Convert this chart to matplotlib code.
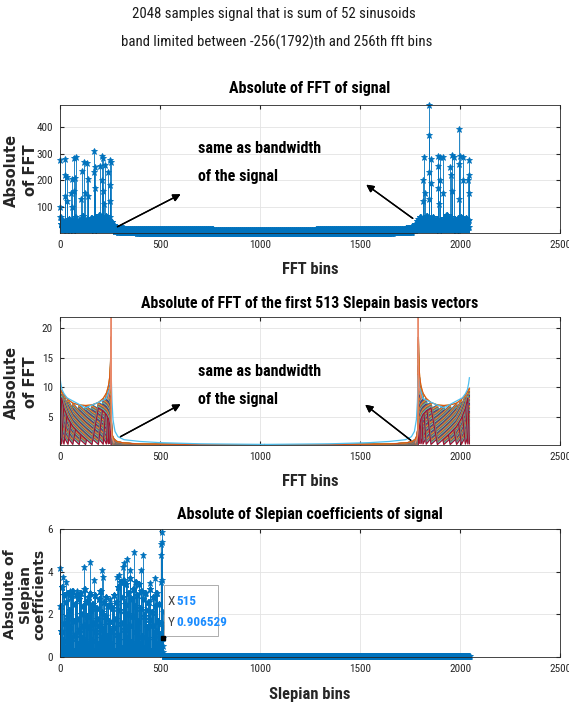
import numpy as np
import matplotlib.pyplot as plt
import matplotlib.font_manager as fm
from matplotlib.patches import Rectangle

# buscar una fuente estrecha (el original usa una tipografia condensada)
narrow_pref = ['Liberation Sans Narrow', 'Roboto Condensed', 'Open Sans Condensed',
               'Noto Sans Condensed', 'DejaVu Sans Condensed']
names = {f.name for f in fm.fontManager.ttflist}
narrow = next((n for n in narrow_pref if n in names), None)
if narrow is None:
    cond = [f for f in fm.fontManager.ttflist
            if 'narrow' in f.name.lower() or 'condensed' in f.name.lower()]
    narrow = cond[0].name if cond else None
families = ([narrow] if narrow else []) + ['Liberation Sans', 'DejaVu Sans']
plt.rcParams['font.family'] = families

# ---------------- datos ----------------
n_bins = 2048
tick_x = [0, 500, 1000, 1500, 2000, 2500]

# panel 1: |FFT| de la senal
# ruido dentro de banda (bloques de 4 bins)
band_left_noise = [60, 35, 20, 45, 15, 30, 50, 25, 10, 40, 28, 55, 18, 35, 22, 48,
                   12, 38, 26, 60, 20, 42, 15, 33, 50, 25, 40, 18, 66, 30, 22, 45,
                   14, 36, 55, 24, 40, 16, 30, 58, 26, 44, 12, 38, 62, 28, 20, 48,
                   34, 70, 25, 42, 18, 56, 30, 45, 22, 64, 38, 26, 50, 35, 60, 40]
band_right_noise = [55, 40, 62, 30, 48, 25, 58, 36, 20, 44, 66, 28, 40, 15, 52, 34,
                    24, 46, 60, 30, 18, 42, 26, 55, 38, 10, 30, 48, 22, 40, 14, 36,
                    58, 26, 44, 68, 32, 50, 20, 40, 62, 28, 46, 16, 34, 54, 24, 12,
                    38, 56, 30, 44, 20, 60, 36, 26, 48, 18, 40, 58, 30, 45, 22, 50]
# suelo fuera de banda: inicio de bloque, valor alto, valor bajo
floor_starts = [256, 264, 272, 288, 320, 384, 512, 768, 1024, 1280, 1536, 1664, 1728, 1760, 1776, 1784, 1792]
floor_hi = [42, 32, 25, 20, 17, 15, 14, 13, 13, 14, 15, 17, 20, 26, 34, 44]
floor_lo = [22, 14, 9, 5, 3, 2, 1.5, 1, 1, 1.5, 2, 3, 6, 12, 18, 26]
# picos
peak_bins = [0, 2, 24, 25, 26, 33, 34, 57, 58, 59, 70, 71, 77, 78, 107, 108, 122, 123,
             133, 138, 142, 171, 172, 173, 175, 200, 208, 209, 216, 217, 218, 225, 242, 249, 250, 251, 255,
             1816, 1817, 1822, 1823, 1843, 1844, 1845, 1846, 1854, 1855, 1888, 1891, 1892, 1893,
             1900, 1901, 1916, 1917, 1950, 1957, 1958, 1959, 1972, 1994, 1995, 1996, 2000,
             2016, 2017, 2040, 2044, 2045, 2046]
peak_vals = [275, 100, 220, 280, 140, 212, 120, 150, 205, 100, 283, 160, 210, 287, 130, 235, 270, 150,
             265, 205, 140, 230, 312, 170, 250, 253, 290, 200, 160, 283, 110, 258, 230, 180, 275, 120, 270,
             120, 200, 287, 150, 370, 230, 484, 130, 190, 280, 255, 170, 290, 110,
             287, 200, 150, 287, 250, 220, 295, 160, 287, 260, 393, 130, 290,
             200, 287, 200, 220, 275, 150]

# panel 2: |FFT| de los vectores de Slepian (envolvente)
env_bins = [0, 8, 20, 40, 64, 96, 128, 160, 192, 216, 232, 242, 248, 252, 255]
env_vals = [9.8, 9.3, 8.7, 7.9, 7.3, 7.0, 6.9, 7.0, 7.4, 8.1, 9.0, 10.2, 11.6, 13.6, 18.5]
tail_bins = [256, 258, 262, 270, 285, 310, 360, 450, 600, 800, 1023]
tail_vals = [6.0, 3.0, 1.8, 1.2, 0.8, 0.6, 0.45, 0.35, 0.3, 0.25, 0.22]
curve_fracs = [1.0, 0.98, 0.96, 0.94, 0.92, 0.90, 0.88, 0.86, 0.84, 0.82, 0.80, 0.78, 0.76,
               0.74, 0.72, 0.70, 0.68, 0.66, 0.64, 0.62, 0.60, 0.58, 0.56, 0.54, 0.52,
               0.50, 0.48, 0.46, 0.44, 0.42, 0.40, 0.38, 0.36, 0.34, 0.32, 0.30, 0.28,
               0.26, 0.24, 0.22, 0.20, 0.18, 0.16, 0.14, 0.12, 0.10, 0.08, 0.06, 0.04]
outer_bins = [0, 4, 10, 20, 35, 128, 230, 250, 256, 260, 265, 275, 290, 320, 400, 500, 700, 1023]
outer_vals = [11.6, 10.6, 9.6, 8.9, 8.2, 6.5, 8.0, 10.0, 12.0, 7.5, 4.5, 2.5, 1.6, 1.1, 0.8, 0.6, 0.4, 0.3]
spike_bins = [240, 252, 255, 256, 257, 260, 270]
spike_vals = [8.0, 10.0, 14.0, 21.9, 3.0, 1.5, 0.6]

# panel 3: |coeficientes de Slepian| (bloques de 4 bins)
slep_vals = [2.4, 1.2, 3.3, 0.8, 2.9, 1.6, 0.4, 2.6, 1.9, 3.0, 0.2, 2.2, 1.4, 2.8, 0.9, 3.1,
             1.7, 0.3, 2.5, 1.1, 2.9, 1.8, 0.6, 2.7, 1.3, 3.0, 2.0, 0.9, 2.4, 1.5, 3.2, 0.7,
             2.6, 1.9, 0.5, 2.8, 1.4, 3.0, 2.2, 0.8, 2.5, 1.6, 0.3, 2.9, 1.2, 2.3, 1.8, 0.6,
             2.7, 1.5, 3.1, 0.9, 2.1, 1.3, 2.6, 0.4, 1.9, 2.8, 1.0, 2.4, 0.5, 1.7, 2.5, 1.2,
             0.6, 2.3, 1.4, 2.9, 0.3, 1.8, 2.6, 1.1, 3.3, 0.8, 2.2, 3.5, 1.6, 0.4, 2.8, 3.6,
             1.3, 2.5, 3.4, 0.9, 2.0, 3.0, 1.5, 3.7, 0.7, 2.7, 1.9, 3.2, 0.5, 2.4, 3.5, 1.2,
             2.9, 1.7, 3.4, 0.6, 2.3, 3.1, 1.0, 2.7, 0.4, 1.9, 3.0, 2.2, 1.4, 0.8, 2.6, 1.8,
             3.2, 0.3, 2.1, 1.5, 2.8, 0.9, 2.4, 1.2, 3.0, 0.6, 1.7, 2.5, 1.1, 0.7, 3.4, 1.6]
slep_peak_bins = [1, 17, 30, 50, 83, 122, 150, 172, 208, 217, 250, 283, 297, 313, 320, 333,
                  350, 372, 403, 417, 450, 475, 505, 506, 507, 508, 509,
                  512, 513, 514, 515, 516, 517, 518]
slep_peak_vals = [4.16, 3.73, 3.5, 3.1, 3.1, 4.23, 4.47, 3.6, 4.08, 3.77, 2.7, 3.73, 3.85, 4.2, 4.4, 4.6,
                  4.1, 4.94, 4.1, 4.8, 3.45, 3.7, 3.5, 4.8, 5.3, 5.85, 5.4,
                  3.6, 2.1, 1.4, 0.906529, 0.5, 0.25, 0.1]
slep_tail = 0.03
tip_x, tip_y = 515, 0.906529

blue = '#0072BD'
matlab_colors = ['#0072BD', '#D95319', '#EDB120', '#7E2F8E', '#77AC30', '#4DBEEE', '#A2142F']

# ---------------- construir series ----------------
x1 = np.arange(n_bins)
y1 = np.zeros(n_bins)
y1[0:256] = np.repeat(band_left_noise, 4)
y1[1792:2048] = np.repeat(band_right_noise, 4)
for i in range(len(floor_hi)):
    s, e = floor_starts[i], floor_starts[i + 1]
    y1[s:e:2] = floor_hi[i]
    y1[s + 1:e:2] = floor_lo[i]
y1[peak_bins] = peak_vals

x3 = np.arange(1, n_bins + 1)
y3 = np.full(n_bins, slep_tail)
y3[0:512] = np.repeat(slep_vals, 4)
y3[np.array(slep_peak_bins) - 1] = slep_peak_vals

# ---------------- figura ----------------
fig = plt.figure(figsize=(5.69, 7.05), dpi=100)
W, H = 569, 705
renderer = fig.canvas.get_renderer()
grow = 1.08  # el original es mas alto que ancho: agrandar un poco


def fx(px):
    return px / W


def fy(py):
    return 1 - py / H


def fit(t, target_px):
    # ajustar el tamano de letra al ancho medido en el original
    w = t.get_window_extent(renderer).width
    t.set_fontsize(t.get_fontsize() * target_px * grow / w)
    return t


def style_axes(ax):
    ax.set_xlim(0, 2500)
    ax.set_xticks(tick_x)
    ax.grid(True, color='#e3e3e3', linewidth=0.6)
    ax.set_axisbelow(True)
    ax.tick_params(direction='in', length=3, top=True, right=True, labelsize=8,
                   colors='#262626', labelcolor='#262626', pad=5)
    for sp in ax.spines.values():
        sp.set_color('#262626')
        sp.set_linewidth(0.6)


def stem_plot(ax, x, y):
    markerline, stemlines, baseline = ax.stem(x, y, linefmt='-', markerfmt='*', basefmt=' ')
    stemlines.set_color(blue)
    stemlines.set_linewidth(0.6)
    markerline.set_color(blue)
    markerline.set_markersize(5)
    markerline.set_markeredgewidth(0.6)
    markerline.set_clip_on(False)


ax_w = 500 / W
ax_h = 128 / H

# panel 1
ax1 = fig.add_axes([fx(60), fy(233), ax_w, ax_h])
stem_plot(ax1, x1, y1)
style_axes(ax1)
ax1.set_ylim(0.5, max(peak_vals))
ax1.set_yticks([100, 200, 300, 400])

# panel 2
ax2 = fig.add_axes([fx(60), fy(445), ax_w, ax_h])
n_c = len(curve_fracs)
k = 0
for side in [0, 1]:
    ex = np.array(env_bins + tail_bins)
    if side == 1:
        ex = 2047 - ex
    for i in range(n_c):
        fr = np.array([curve_fracs[(i + 7 * j) % n_c] for j in range(len(env_bins))])
        yy = np.concatenate([np.array(env_vals) * fr, np.array(tail_vals) * curve_fracs[i]])
        ax2.plot(ex, yy, color=matlab_colors[k % 7], linewidth=0.9)
        k += 1
    for c in ['#EDB120', '#D95319']:
        ax2.plot(ex, env_vals + tail_vals, color=c, linewidth=0.8)
    ox = np.array(outer_bins) if side == 0 else 2047 - np.array(outer_bins)
    ax2.plot(ox, outer_vals, color='#4DBEEE', linewidth=0.9)
    sx = np.array(spike_bins) if side == 0 else 2047 - np.array(spike_bins)
    ax2.plot(sx, spike_vals, color='#E8896A', linewidth=0.9)
style_axes(ax2)
ax2.set_ylim(0.2, 21.9)
ax2.set_yticks([5, 10, 15, 20])

# panel 3
ax3 = fig.add_axes([fx(60), fy(657), ax_w, ax_h])
stem_plot(ax3, x3, y3)
style_axes(ax3)
ax3.set_ylim(0, 6)
ax3.set_yticks([0, 2, 4, 6])

# datatip
ax3.plot([tip_x], [tip_y], 's', color='black', markersize=3.5, zorder=6, clip_on=False)
ax3.add_patch(Rectangle((520, 0.98), 270, 2.4, facecolor='white', edgecolor='#a0a0a0',
                        linewidth=0.6, zorder=5))
ax3.text(540, 2.58, 'X', color='#404040', fontsize=9.5, va='center', zorder=7)
ax3.text(580, 2.58, str(tip_x), color='#1a8cff', fontsize=9.5, fontweight='bold', va='center', zorder=7)
ax3.text(540, 1.64, 'Y', color='#404040', fontsize=9.5, va='center', zorder=7)
ax3.text(580, 1.64, '%.6f' % tip_y, color='#1a8cff', fontsize=9.5, fontweight='bold', va='center', zorder=7)

# textos
fit(fig.text(fx(274), fy(14), '2048 samples signal that is sum of 52 sinusoids',
             ha='center', va='center', fontsize=12, color='#1a1a1a'), 262)
fit(fig.text(fx(277), fy(42), 'band limited between -256(1792)th and 256th fft bins',
             ha='center', va='center', fontsize=12, color='#1a1a1a'), 287)

titles = ['Absolute of FFT of signal',
          'Absolute of FFT of the first 513 Slepain basis vectors',
          'Absolute of Slepian coefficients of signal']
title_w = [149, 314, 245]
title_y = [89, 304, 515]
xlabels = ['FFT bins', 'FFT bins', 'Slepian bins']
xlabel_w = [52, 52, 75]
xlabel_y = [270, 482, 695]
ylabels = ['Absolute\nof FFT', 'Absolute\nof FFT', 'Absolute of\nSlepian\ncoefficients']
ylabel_y = [170, 382, 594]
ylabel_fs = [10.5, 10.5, 10]
ylabel_ls = [1.3, 1.3, 1.05]
ylabel_x = [21, 21, 25]
for i in range(3):
    fit(fig.text(fx(310), fy(title_y[i]), titles[i], ha='center', va='center',
                 fontsize=11, fontweight='bold', color='black'), title_w[i])
    fit(fig.text(fx(310), fy(xlabel_y[i]), xlabels[i], ha='center', va='center',
                 fontsize=11, fontweight='bold', color='#262626'), xlabel_w[i])
    fig.text(fx(ylabel_x[i]), fy(ylabel_y[i]), ylabels[i], ha='center', va='center', rotation=90,
             fontsize=ylabel_fs[i], fontweight='bold', color='#262626', family=['DejaVu Sans'],
             linespacing=ylabel_ls[i])

# anotaciones
note = 'same as bandwidth\nof the signal'
for ty, arrows in [(141, [((115, 228), (183, 193)), ((415, 220), (364, 183))]),
                   (364, [((118, 438), (183, 403)), ((413, 442), (363, 403))])]:
    t = fig.text(fx(198), fy(ty), note, ha='left', va='top', fontsize=10, fontweight='bold',
                 linespacing=2.05)
    fit(t, 114)
    for tail, head in arrows:
        fig.add_artist(plt.annotate('', xy=(fx(head[0]), fy(head[1])), xycoords='figure fraction',
                                    xytext=(fx(tail[0]), fy(tail[1])), textcoords='figure fraction',
                                    arrowprops=dict(arrowstyle='-|>', color='black', lw=1.0,
                                                    mutation_scale=11)))

fig.savefig('out.png', dpi=100)
